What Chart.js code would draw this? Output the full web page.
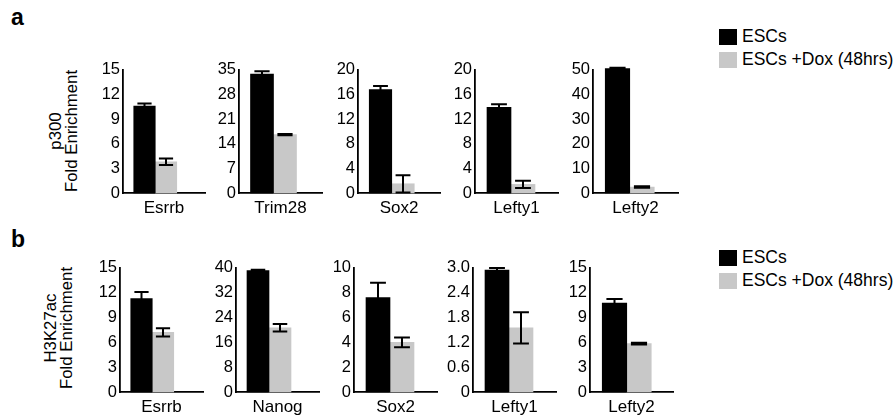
<!DOCTYPE html>
<html>
<head>
<meta charset="utf-8">
<script src="https://cdn.jsdelivr.net/npm/chart.js@4.4.1/dist/chart.umd.min.js"></script>
<style>
  body { margin: 0; width: 896px; height: 419px; background: #fff; position: relative; overflow: hidden;
         font-family: "Liberation Sans", Arial, Helvetica, sans-serif; color: #000; }
  canvas { position: absolute; }
  .tag { position: absolute; left: 11px; font-weight: bold; font-size: 23px; line-height: 23px; }
  .ytitle { position: absolute; width: 200px; height: 32px; font-size: 16.8px; line-height: 16px;
            text-align: center; transform: rotate(-90deg); white-space: nowrap; }
  .legend { position: absolute; left: 719px; font-size: 17.5px; }
  .legend .item { display: flex; align-items: center; height: 23px; }
  .legend .sw { width: 18px; height: 16px; margin-right: 5px; }
</style>
</head>
<body>
<div class="tag" style="top:6px">a</div>
<div class="tag" style="top:228px">b</div>
<div class="ytitle" style="left:-36px; top:115px">p300<br>Fold Enrichment</div>
<div class="ytitle" style="left:-41px; top:312px">H3K27ac<br>Fold Enrichment</div>
<div class="legend" style="top:25px">
  <div class="item"><div class="sw" style="background:#000"></div>ESCs</div>
  <div class="item"><div class="sw" style="background:#c8c8c8"></div>ESCs +Dox (48hrs)</div>
</div>
<div class="legend" style="top:246px">
  <div class="item"><div class="sw" style="background:#000"></div>ESCs</div>
  <div class="item"><div class="sw" style="background:#c8c8c8"></div>ESCs +Dox (48hrs)</div>
</div>

<script>
// series names
const seriesNames = ['ESCs', 'ESCs +Dox (48hrs)'];

// a: p300
const p300Genes = ['Esrrb', 'Trim28', 'Sox2', 'Lefty1', 'Lefty2'];
const p300Esc = [10.6, 33.8, 16.8, 13.9, 50.5];
const p300EscErr = [0.3, 0.8, 0.6, 0.5, 0.4];
const p300Dox = [3.8, 16.6, 1.5, 1.4, 2.4];
const p300DoxErr = [0.4, 0.2, 1.4, 0.6, 0.3];
const p300Ticks = [[0, 3, 6, 9, 12, 15], [0, 7, 14, 21, 28, 35], [0, 4, 8, 12, 16, 20],
                   [0, 4, 8, 12, 16, 20], [0, 10, 20, 30, 40, 50]];

// b: H3K27ac
const acGenes = ['Esrrb', 'Nanog', 'Sox2', 'Lefty1', 'Lefty2'];
const acEsc = [11.3, 39.1, 7.6, 2.95, 10.75];
const acEscErr = [0.8, 0.3, 1.2, 0.05, 0.5];
const acDox = [7.2, 20.7, 4.0, 1.55, 5.85];
const acDoxErr = [0.5, 1.2, 0.4, 0.38, 0.1];
const acTicks = [[0, 3, 6, 9, 12, 15], [0, 8, 16, 24, 32, 40], [0, 2, 4, 6, 8, 10],
                 [0, 0.6, 1.2, 1.8, 2.4, 3.0], [0, 3, 6, 9, 12, 15]];

// layout: [axis left, axis right, bar width] in px, and row top/zero lines
const rowALayout = [[123, 205, 21.5], [239, 322, 23], [358, 440, 22.5], [475, 558, 24], [593, 678, 24.5]];
const rowBLayout = [[120, 203, 21.5], [236, 319, 22], [354, 437, 24], [473, 556, 24], [590, 673, 24.5]];
const rowA = { top: 69, zero: 193 };
const rowB = { top: 267, zero: 392 };

const FONT = '"Liberation Sans", Arial, Helvetica, sans-serif';
const YW = 40, XH = 26, PADT = 12, PADR = 4;

const errorBars = {
  id: 'errorBars',
  afterDatasetsDraw(chart) {
    const ctx = chart.ctx;
    const y = chart.scales.y;
    chart.data.datasets.forEach((ds, i) => {
      chart.getDatasetMeta(i).data.forEach((bar, j) => {
        const v = ds.data[j].y, e = ds.errors[j];
        const top = y.getPixelForValue(v + e);
        const bot = y.getPixelForValue(v - e);
        const half = bar.width * 0.33;
        ctx.save();
        ctx.strokeStyle = '#000';
        ctx.lineWidth = 2;
        ctx.beginPath();
        ctx.moveTo(bar.x, top); ctx.lineTo(bar.x, bot);
        ctx.moveTo(bar.x - half, top); ctx.lineTo(bar.x + half, top);
        ctx.moveTo(bar.x - half, bot); ctx.lineTo(bar.x + half, bot);
        ctx.stroke();
        ctx.restore();
      });
    });
  }
};

function makePanel(gene, esc, escErr, dox, doxErr, ticks, lay, row) {
  const [ax, axEnd, bw] = lay;
  const W = axEnd - ax;
  const cv = document.createElement('canvas');
  const left = ax - YW, top = row.top - PADT;
  const cw = YW + W + PADR, ch = row.zero - top + XH;
  cv.width = cw; cv.height = ch;
  cv.style.left = left + 'px'; cv.style.top = top + 'px';
  cv.style.width = cw + 'px'; cv.style.height = ch + 'px';
  document.body.appendChild(cv);
  const max = ticks[ticks.length - 1];

  new Chart(cv, {
    type: 'bar',
    data: {
      datasets: [
        { label: seriesNames[0], data: [{ x: 1, y: esc }], errors: [escErr], backgroundColor: '#000' },
        { label: seriesNames[1], data: [{ x: 2, y: dox }], errors: [doxErr], backgroundColor: '#c8c8c8' }
      ]
    },
    options: {
      responsive: false,
      animation: false,
      devicePixelRatio: 1,
      layout: { padding: { top: PADT, right: PADR, left: 0, bottom: 0 } },
      datasets: { bar: { grouped: false, categoryPercentage: 1, barPercentage: 1, clip: false } },
      plugins: { legend: { display: false }, tooltip: { enabled: false } },
      scales: {
        x: {
          type: 'linear', min: 0, max: W / bw, offset: false, bounds: 'data',
          afterBuildTicks: s => { s.ticks = [{ value: 0 }]; },
          afterFit: s => { s.height = XH; },
          grid: { display: false, drawTicks: false, offset: false },
          ticks: { display: false },
          border: { display: true, color: '#000', width: 1.8 },
          title: { display: true, text: gene, color: '#000', font: { family: FONT, size: 17 },
                   padding: { top: 0, bottom: 0 } }
        },
        y: {
          min: 0, max: max,
          afterBuildTicks: s => { s.ticks = ticks.map(v => ({ value: v })); },
          afterFit: s => { s.width = YW; },
          grid: { display: false, drawTicks: false },
          border: { display: true, color: '#000', width: 1.8 },
          ticks: {
            color: '#000', padding: 3, font: { family: FONT, size: 16.5 },
            callback: v => (v === 0 ? '0' : (max < 5 ? v.toFixed(1) : String(v)))
          }
        }
      }
    },
    plugins: [errorBars]
  });
}

p300Genes.forEach((g, i) => makePanel(g, p300Esc[i], p300EscErr[i], p300Dox[i], p300DoxErr[i], p300Ticks[i], rowALayout[i], rowA));
acGenes.forEach((g, i) => makePanel(g, acEsc[i], acEscErr[i], acDox[i], acDoxErr[i], acTicks[i], rowBLayout[i], rowB));
</script>
</body>
</html>
